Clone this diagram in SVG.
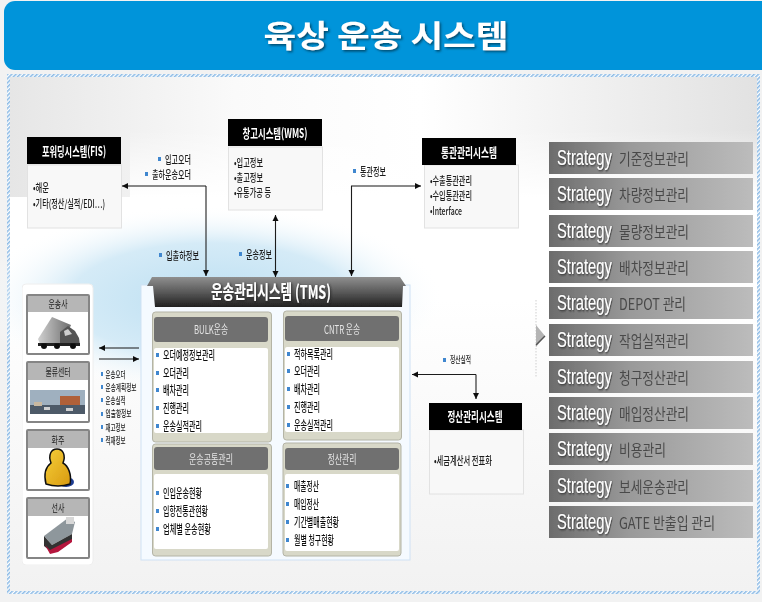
<svg xmlns="http://www.w3.org/2000/svg" width="762" height="602" viewBox="0 0 762 602">
<defs>
<style>
text{font-family:"Noto Sans CJK KR","Noto Sans",sans-serif;}
.h{fill:#fff;font-size:13px;font-weight:700;text-anchor:middle;}
.b{fill:#1a1a1a;font-size:11px;font-weight:500;}
.l{fill:#1a1a1a;font-size:11px;font-weight:500;}
.s{fill:#1a1a1a;font-size:9px;font-weight:500;}
.p{fill:#111;font-size:12px;font-weight:500;}
.ph{fill:#e6e6e6;font-size:12px;text-anchor:middle;}
.st{fill:#fff;font-size:22px;font-family:"Liberation Sans","Noto Sans",sans-serif;}
.sk{fill:#4a4a4a;font-size:16px;font-weight:400;}
.box{fill:#f8f8f8;stroke:#e2e2e2;}
.pan{fill:#d8d8c8;stroke:#b4b4a6;}
.phd{fill:#707070;}
.pw{fill:#fff;}
.bul{fill:#3f87cf;}
.c{fill:none;stroke:#1c1c1c;stroke-width:1.1;}
.ent{fill:#fff;stroke:#858585;stroke-width:2;}
.enh{fill:#b6b6b6;}
.en{fill:#222;font-size:10.500px;text-anchor:middle;font-weight:400;}
</style>
<marker id="a" markerWidth="7" markerHeight="7" refX="6" refY="3.500" orient="auto-start-reverse" markerUnits="userSpaceOnUse"><path d="M0 0.500L6 3.500L0 6.500z" fill="#111"/></marker>
<pattern id="hatch" width="3" height="3" patternUnits="userSpaceOnUse" patternTransform="rotate(45)"><rect width="3" height="3" fill="#fff"/><rect width="1.600" height="3" fill="#8dbbe6"/></pattern>
<linearGradient id="bar" x1="0" x2="1" y1="0" y2="0"><stop offset="0" stop-color="#6c6c6c"/><stop offset=".4" stop-color="#9a9a9a"/><stop offset="1" stop-color="#bcbcbc"/></linearGradient>
<linearGradient id="tms" x1="0" x2="0" y1="0" y2="1"><stop offset="0" stop-color="#8f8f8f"/><stop offset=".5" stop-color="#5a5a5a"/><stop offset="1" stop-color="#1f1f1f"/></linearGradient>
<linearGradient id="fade" x1="0" x2="0" y1="0" y2="1"><stop offset="0" stop-color="#fff" stop-opacity="0"/><stop offset="1" stop-color="#fff"/></linearGradient>
<linearGradient id="lg" x1="0" x2="1" y1="0" y2="0"><stop offset="0" stop-color="#e6e6e6"/><stop offset=".3" stop-color="#fafafa"/><stop offset=".55" stop-color="#fff"/><stop offset="1" stop-color="#e2e2e2"/></linearGradient>
<linearGradient id="low" x1="0" x2="0" y1="0" y2="1"><stop offset="0" stop-color="#fff"/><stop offset="1" stop-color="#f2f2f2"/></linearGradient>
<linearGradient id="trl" x1="0" x2="1" y1="0" y2="0"><stop offset="0" stop-color="#d0d0d0"/><stop offset="1" stop-color="#6e6e6e"/></linearGradient>
<linearGradient id="gold" x1="0" x2="1" y1="0" y2="1"><stop offset="0" stop-color="#f6cf3a"/><stop offset="1" stop-color="#d89a10"/></linearGradient>
<radialGradient id="cloud" cx=".5" cy=".5" r=".5"><stop offset="0" stop-color="#bcdff2"/><stop offset=".6" stop-color="#d5ebf7"/><stop offset="1" stop-color="#fff" stop-opacity="0"/></radialGradient>
<filter id="ds" x="-10%" y="-20%" width="120%" height="140%"><feDropShadow dx="1" dy="1" stdDeviation="1" flood-color="#222" flood-opacity=".85"/></filter>
<filter id="ts" x="-10%" y="-20%" width="120%" height="140%"><feDropShadow dx="1.500" dy="1.500" stdDeviation="0.800" flood-color="#06415f" flood-opacity=".9"/></filter>
<filter id="soft" x="0" y="0" width="100%" height="100%"><feGaussianBlur stdDeviation="0.400"/></filter>
</defs>
<rect width="762" height="602" fill="#f2f2f2"/>
<g id="background">
<rect x="7" y="74" width="753" height="520" fill="url(#hatch)"/>
<rect x="10" y="77" width="747" height="514" fill="#fff"/>
<rect x="10" y="77" width="747" height="120" fill="url(#lg)"/>
<rect x="130" y="130" width="627" height="67" fill="url(#fade)"/>
<rect x="10" y="300" width="747" height="291" fill="url(#low)"/>
<ellipse cx="210" cy="300" rx="235" ry="95" fill="url(#cloud)"/>
</g>
<g id="title">
<rect x="4" y="1" width="770" height="69" rx="11" fill="#0094da"/>
<text x="386" y="47" text-anchor="middle" font-size="31" font-weight="700" fill="#fff" textLength="245" lengthAdjust="spacingAndGlyphs" filter="url(#ts)">육상 운송 시스템</text>
</g>
<g filter="url(#soft)">
<g id="connectors">
<path class="c" d="M206 186H122" marker-end="url(#a)"/>
<path class="c" d="M206 186V276" marker-end="url(#a)"/>
<path class="c" d="M275.500 277V215" marker-start="url(#a)" marker-end="url(#a)"/>
<path class="c" d="M351.500 276V186H421" marker-start="url(#a)" marker-end="url(#a)"/>
<path class="c" d="M139 348H99" marker-end="url(#a)"/>
<path class="c" d="M99 359H139" marker-end="url(#a)"/>
<path class="c" d="M476 374.500H412" marker-end="url(#a)"/>
<path class="c" d="M476 374.500V399" marker-end="url(#a)"/>
</g>
<g id="labels">
<rect class="bul" x="158" y="157" width="3" height="4"/><text class="l" x="165" y="164" textLength="26" lengthAdjust="spacingAndGlyphs">입고오더</text>
<rect class="bul" x="145" y="172" width="3" height="4"/><text class="l" x="152" y="179" textLength="39" lengthAdjust="spacingAndGlyphs">출하운송오더</text>
<rect class="bul" x="159" y="253" width="3" height="4"/><text class="l" x="166" y="260" textLength="33" lengthAdjust="spacingAndGlyphs">입출하정보</text>
<rect class="bul" x="239" y="252" width="3" height="4"/><text class="l" x="246" y="259" textLength="26" lengthAdjust="spacingAndGlyphs">운송정보</text>
<rect class="bul" x="353" y="169" width="3" height="4"/><text class="l" x="360" y="176" textLength="26" lengthAdjust="spacingAndGlyphs">통관정보</text>
<rect class="bul" x="443" y="358" width="3" height="4"/><text class="s" x="450" y="363" textLength="21" lengthAdjust="spacingAndGlyphs">정산실적</text>
<rect class="bul" x="101" y="372" width="2" height="4"/><text class="s" x="105.500" y="377.500" textLength="20" lengthAdjust="spacingAndGlyphs">운송오더</text>
<rect class="bul" x="101" y="385" width="2" height="4"/><text class="s" x="105.500" y="391" textLength="31" lengthAdjust="spacingAndGlyphs">운송계획정보</text>
<rect class="bul" x="101" y="398" width="2" height="4"/><text class="s" x="105.500" y="403.500" textLength="20" lengthAdjust="spacingAndGlyphs">운송실적</text>
<rect class="bul" x="101" y="412" width="2" height="4"/><text class="s" x="105.500" y="417" textLength="26" lengthAdjust="spacingAndGlyphs">입출항정보</text>
<rect class="bul" x="101" y="425" width="2" height="4"/><text class="s" x="105.500" y="430.500" textLength="20" lengthAdjust="spacingAndGlyphs">재고정보</text>
<rect class="bul" x="101" y="438" width="2" height="4"/><text class="s" x="105.500" y="444" textLength="20" lengthAdjust="spacingAndGlyphs">적재정보</text>
</g>
<g id="fis">
<rect class="box" x="27.500" y="165" width="94" height="63"/>
<rect x="27" y="137" width="94" height="27" fill="#000"/>
<text class="h" x="74" y="156" textLength="64" lengthAdjust="spacingAndGlyphs">포워딩시스템(FIS)</text>
<text class="b" x="33" y="192" textLength="16" lengthAdjust="spacingAndGlyphs">•해운</text>
<text class="b" x="33" y="208" textLength="72" lengthAdjust="spacingAndGlyphs">•기타(정산/실적/EDI…)</text>
</g>
<g id="wms">
<rect class="box" x="228.500" y="147" width="94" height="63"/>
<rect x="228" y="119" width="94" height="27" fill="#000"/>
<text class="h" x="275" y="138" textLength="65" lengthAdjust="spacingAndGlyphs">창고시스템(WMS)</text>
<text class="b" x="234" y="167" textLength="29" lengthAdjust="spacingAndGlyphs">•입고정보</text>
<text class="b" x="234" y="182" textLength="29" lengthAdjust="spacingAndGlyphs">•출고정보</text>
<text class="b" x="234" y="197" textLength="37" lengthAdjust="spacingAndGlyphs">•유통가공 등</text>
</g>
<g id="customs">
<rect class="box" x="424.500" y="165" width="94" height="63"/>
<rect x="422" y="138" width="94" height="27" fill="#000"/>
<text class="h" x="469" y="157" textLength="56" lengthAdjust="spacingAndGlyphs">통관관리시스템</text>
<text class="b" x="430" y="185" textLength="42" lengthAdjust="spacingAndGlyphs">•수출통관관리</text>
<text class="b" x="430" y="200" textLength="42" lengthAdjust="spacingAndGlyphs">•수입통관관리</text>
<text class="b" x="430" y="215" textLength="32" lengthAdjust="spacingAndGlyphs">•Interface</text>
</g>
<g id="settlement">
<rect class="box" x="429.500" y="430" width="94" height="64"/>
<rect x="429" y="403" width="93" height="27" fill="#000"/>
<text class="h" x="475" y="421" textLength="55" lengthAdjust="spacingAndGlyphs">정산관리시스템</text>
<text class="b" x="434" y="465" textLength="58" lengthAdjust="spacingAndGlyphs">•세금계산서 전표화</text>
</g>
<g id="partners">
<rect x="22" y="284" width="71" height="281" rx="4" fill="#fff" stroke="#eee"/>
<g id="carrier">
<rect class="ent" x="27" y="295" width="62" height="59" rx="1"/><rect class="enh" x="28" y="296" width="60" height="16"/>
<text class="en" x="58" y="308" textLength="19" lengthAdjust="spacingAndGlyphs">운송사</text>
<polygon points="38,339 52,317 71,325 62,345 40,344" fill="url(#trl)"/><polygon points="60,332 68,326 75,331 79,338 80,345 60,346" fill="#555"/><polygon points="64,331 68,329 72,334 65,336" fill="#cfcfcf"/><rect x="38" y="343" width="42" height="3" fill="#222"/><circle cx="44" cy="346" r="3" fill="#111"/><circle cx="57" cy="346" r="3" fill="#111"/><circle cx="73" cy="346" r="3" fill="#111"/>
</g>
<g id="logistics">
<rect class="ent" x="27" y="362" width="62" height="60" rx="1"/><rect class="enh" x="28" y="363" width="60" height="17"/>
<text class="en" x="58" y="376" textLength="25" lengthAdjust="spacingAndGlyphs">물류센터</text>
<rect x="30" y="390" width="55" height="15" fill="#9fb0bf"/><rect x="60" y="396" width="20" height="10" fill="#b06038"/><rect x="30" y="405" width="55" height="9" fill="#4d5a68"/><rect x="34" y="402" width="8" height="4" fill="#c8b8a0"/><rect x="44" y="407" width="6" height="3" fill="#d0d0d0"/><rect x="66" y="408" width="7" height="3" fill="#d0d0d0"/>
</g>
<g id="shipper">
<rect class="ent" x="27" y="430" width="62" height="60" rx="1"/><rect class="enh" x="28" y="431" width="60" height="17"/>
<text class="en" x="58" y="444" textLength="13" lengthAdjust="spacingAndGlyphs">화주</text>
<ellipse cx="66" cy="482" rx="8" ry="5" fill="#1c3a90"/><path d="M46 484C43 472 47 466 51 463C48 455 51 449 57 449C63 449 66 455 63 463C68 466 72 474 70 484Q58 488 46 484z" fill="url(#gold)" stroke="#111" stroke-width="1.500"/>
</g>
<g id="shipping">
<rect class="ent" x="27" y="498" width="62" height="60" rx="1"/><rect class="enh" x="28" y="499" width="60" height="17"/>
<text class="en" x="58" y="512" textLength="13" lengthAdjust="spacingAndGlyphs">선사</text>
<polygon points="44,536 60,524 68,518 75,522 72,534 52,545" fill="#8e979c"/><rect x="66" y="517" width="8" height="7" fill="#d8d8d8"/><polygon points="44,536 52,545 72,534 72,540 50,551 44,546" fill="#333"/><polygon points="45,545 50,550 72,539 72,542 58,552 50,554" fill="#b4143c"/>
</g>
</g>
<g id="tms-panel">
<rect x="141" y="285" width="269" height="275" fill="#f5faff" stroke="#cfe2f4"/>
<polygon points="147,286 152,277 400,277 406,286 403,286 402,307 155,307 153,286" fill="url(#tms)"/>
<text x="271" y="299" text-anchor="middle" font-size="19" font-weight="700" fill="#fff" textLength="120" lengthAdjust="spacingAndGlyphs" filter="url(#ds)">운송관리시스템 (TMS)</text>
</g>
<g id="bulk">
<rect class="pan" x="152.500" y="312" width="119" height="130" rx="3"/>
<rect class="phd" x="154" y="317" width="114" height="25" rx="3"/><rect class="pw" x="154" y="348" width="114" height="85" rx="2"/>
<text class="ph" x="211" y="334" textLength="34" lengthAdjust="spacingAndGlyphs">BULK운송</text>
<g class="bul"><rect x="156" y="353" width="3" height="4"/><rect x="156" y="371" width="3" height="4"/><rect x="156" y="388" width="3" height="4"/><rect x="156" y="406" width="3" height="4"/><rect x="156" y="424" width="3" height="4"/></g>
<text class="p" x="163" y="359.500" textLength="52" lengthAdjust="spacingAndGlyphs">오더예정정보관리</text>
<text class="p" x="163" y="377.500" textLength="26" lengthAdjust="spacingAndGlyphs">오더관리</text>
<text class="p" x="163" y="394.500" textLength="26" lengthAdjust="spacingAndGlyphs">배차관리</text>
<text class="p" x="163" y="412.500" textLength="26" lengthAdjust="spacingAndGlyphs">진행관리</text>
<text class="p" x="163" y="430.500" textLength="39" lengthAdjust="spacingAndGlyphs">운송실적관리</text>
</g>
<g id="cntr">
<rect class="pan" x="283.500" y="311" width="118" height="129" rx="3"/>
<rect class="phd" x="285" y="316" width="114" height="25" rx="3"/><rect class="pw" x="285" y="347" width="114" height="85" rx="2"/>
<text class="ph" x="342" y="334" textLength="36" lengthAdjust="spacingAndGlyphs">CNTR 운송</text>
<g class="bul"><rect x="287" y="352" width="3" height="4"/><rect x="287" y="369" width="3" height="4"/><rect x="287" y="387" width="3" height="4"/><rect x="287" y="405" width="3" height="4"/><rect x="287" y="423" width="3" height="4"/></g>
<text class="p" x="294" y="358.500" textLength="39" lengthAdjust="spacingAndGlyphs">적하목록관리</text>
<text class="p" x="294" y="375.500" textLength="26" lengthAdjust="spacingAndGlyphs">오더관리</text>
<text class="p" x="294" y="393.500" textLength="26" lengthAdjust="spacingAndGlyphs">배차관리</text>
<text class="p" x="294" y="411.500" textLength="26" lengthAdjust="spacingAndGlyphs">진행관리</text>
<text class="p" x="294" y="429.500" textLength="39" lengthAdjust="spacingAndGlyphs">운송실적관리</text>
</g>
<g id="common">
<rect class="pan" x="152.500" y="444" width="119" height="112" rx="3"/>
<rect class="phd" x="154" y="447" width="114" height="23" rx="3"/><rect class="pw" x="154" y="474" width="114" height="75" rx="2"/>
<text class="ph" x="211" y="463.500" textLength="44" lengthAdjust="spacingAndGlyphs">운송공통관리</text>
<g class="bul"><rect x="156" y="491" width="3" height="4"/><rect x="156" y="509" width="3" height="4"/><rect x="156" y="527" width="3" height="4"/></g>
<text class="p" x="163" y="497.500" textLength="39" lengthAdjust="spacingAndGlyphs">인입운송현황</text>
<text class="p" x="163" y="515.500" textLength="45" lengthAdjust="spacingAndGlyphs">입항전통관현황</text>
<text class="p" x="163" y="533.500" textLength="48" lengthAdjust="spacingAndGlyphs">업체별 운송현황</text>
</g>
<g id="settle">
<rect class="pan" x="283" y="443" width="118" height="113" rx="3"/>
<rect class="phd" x="285" y="448" width="114" height="22" rx="3"/><rect class="pw" x="285" y="474" width="114" height="77" rx="2"/>
<text class="ph" x="342" y="463.500" textLength="29" lengthAdjust="spacingAndGlyphs">정산관리</text>
<g class="bul"><rect x="286" y="484" width="3" height="4"/><rect x="286" y="502" width="3" height="4"/><rect x="286" y="520" width="3" height="4"/><rect x="286" y="538" width="3" height="4"/></g>
<text class="p" x="294" y="490.500" textLength="25" lengthAdjust="spacingAndGlyphs">매출정산</text>
<text class="p" x="294" y="508.500" textLength="25" lengthAdjust="spacingAndGlyphs">매입정산</text>
<text class="p" x="294" y="526.500" textLength="45" lengthAdjust="spacingAndGlyphs">기간별매출현황</text>
<text class="p" x="294" y="544.500" textLength="40" lengthAdjust="spacingAndGlyphs">월별 청구현황</text>
</g>
<g id="divider">
<path d="M536 300V378" stroke="#cfcfcf" stroke-dasharray="1.500 1.500" fill="none"/>
<polygon points="536,325 545,336 536,347" fill="#b4b4b4"/><path d="M536 345L545 336" stroke="#555" stroke-width="1.500"/>
</g>
<g id="strategy">
<g id="s1"><rect x="549" y="142" width="204" height="32" fill="url(#bar)"/><text class="st" transform="translate(557 165) scale(.67 1)" filter="url(#ds)">Strategy</text><text class="sk" x="619" y="165" textLength="70" lengthAdjust="spacingAndGlyphs">기준정보관리</text></g>
<g id="s2"><rect x="549" y="178" width="204" height="32" fill="url(#bar)"/><text class="st" transform="translate(557 201) scale(.67 1)" filter="url(#ds)">Strategy</text><text class="sk" x="619" y="201" textLength="70" lengthAdjust="spacingAndGlyphs">차량정보관리</text></g>
<g id="s3"><rect x="549" y="215" width="204" height="32" fill="url(#bar)"/><text class="st" transform="translate(557 238) scale(.67 1)" filter="url(#ds)">Strategy</text><text class="sk" x="619" y="238" textLength="70" lengthAdjust="spacingAndGlyphs">물량정보관리</text></g>
<g id="s4"><rect x="549" y="251" width="204" height="32" fill="url(#bar)"/><text class="st" transform="translate(557 274) scale(.67 1)" filter="url(#ds)">Strategy</text><text class="sk" x="619" y="274" textLength="70" lengthAdjust="spacingAndGlyphs">배차정보관리</text></g>
<g id="s5"><rect x="549" y="287" width="204" height="32" fill="url(#bar)"/><text class="st" transform="translate(557 310) scale(.67 1)" filter="url(#ds)">Strategy</text><text class="sk" x="619" y="310" textLength="67" lengthAdjust="spacingAndGlyphs">DEPOT 관리</text></g>
<g id="s6"><rect x="549" y="324" width="204" height="32" fill="url(#bar)"/><text class="st" transform="translate(557 347) scale(.67 1)" filter="url(#ds)">Strategy</text><text class="sk" x="619" y="347" textLength="70" lengthAdjust="spacingAndGlyphs">작업실적관리</text></g>
<g id="s7"><rect x="549" y="361" width="204" height="32" fill="url(#bar)"/><text class="st" transform="translate(557 384) scale(.67 1)" filter="url(#ds)">Strategy</text><text class="sk" x="619" y="384" textLength="70" lengthAdjust="spacingAndGlyphs">청구정산관리</text></g>
<g id="s8"><rect x="549" y="397" width="204" height="32" fill="url(#bar)"/><text class="st" transform="translate(557 420) scale(.67 1)" filter="url(#ds)">Strategy</text><text class="sk" x="619" y="420" textLength="70" lengthAdjust="spacingAndGlyphs">매입정산관리</text></g>
<g id="s9"><rect x="549" y="433" width="204" height="32" fill="url(#bar)"/><text class="st" transform="translate(557 456) scale(.67 1)" filter="url(#ds)">Strategy</text><text class="sk" x="619" y="456" textLength="47" lengthAdjust="spacingAndGlyphs">비용관리</text></g>
<g id="s10"><rect x="549" y="470" width="204" height="32" fill="url(#bar)"/><text class="st" transform="translate(557 493) scale(.67 1)" filter="url(#ds)">Strategy</text><text class="sk" x="619" y="493" textLength="70" lengthAdjust="spacingAndGlyphs">보세운송관리</text></g>
<g id="s11"><rect x="549" y="506" width="204" height="32" fill="url(#bar)"/><text class="st" transform="translate(557 529) scale(.67 1)" filter="url(#ds)">Strategy</text><text class="sk" x="619" y="529" textLength="96" lengthAdjust="spacingAndGlyphs">GATE 반출입 관리</text></g>
</g>
</g>
</svg>
